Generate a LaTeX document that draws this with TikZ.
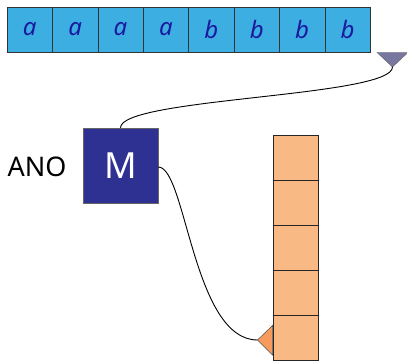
\documentclass[tikz,border=0pt]{standalone}
\usepackage{fontspec}
\setmainfont{Noto Sans}
\usetikzlibrary{calc}
\definecolor{tapeblue}{HTML}{3DAEE2}
\definecolor{letterblue}{HTML}{1A1AA0}
\definecolor{mblue}{HTML}{2E3192}
\definecolor{headgray}{HTML}{7777A0}
\definecolor{cellorange}{HTML}{F9B985}
\definecolor{headorange}{HTML}{F79A5E}
\begin{document}
\begin{tikzpicture}[x=1pt,y=-1pt,
  tcell/.style={draw=black!80,line width=0.6pt,fill=tapeblue,minimum width=45.4pt,minimum height=45pt,inner sep=0pt,outer sep=0pt,font=\fontsize{24}{24}\selectfont\itshape,text=letterblue},
  ocell/.style={draw=black!85,line width=0.6pt,fill=cellorange,minimum width=45pt,minimum height=45pt,inner sep=0pt,outer sep=0pt},
  wire/.style={line width=0.9pt,black}]
\useasboundingbox (0,0) rectangle (407,361);
% top tape
\foreach \i/\l in {0/a,1/a,2/a,3/a,4/b,5/b,6/b,7/b}{
  \node[tcell] (t\i) at ({7+22.7+45.4*\i},29.5) {\l};
}
% head triangle
\coordinate (h1) at (377,52.5);
\coordinate (h2) at (408,52.5);
\coordinate (hA) at (392.5,67);
\filldraw[fill=headgray,draw=black!60,line width=0.4pt] (h1) -- (h2) -- (hA) -- cycle;
% M box
\node[draw=black!60,line width=0.5pt,fill=mblue,minimum size=75pt,inner sep=0pt,text=white,font=\fontsize{36}{36}\selectfont] (M) at (120.5,165.5) {M};
\node[font=\fontsize{27}{27}\selectfont,anchor=east] (ano) at (70,167) {ANO};
% orange column
\foreach \j in {0,...,4}{
  \node[ocell] (o\j) at (295.5,{135+22.5+45*\j}) {};
}
% orange head
\coordinate (g1) at (272.5,325.5);
\coordinate (g2) at (272.5,355);
\coordinate (gA) at (257.5,340);
\filldraw[fill=headorange,draw=black!70,line width=0.5pt] (g1) -- (gA) -- (g2) -- cycle;
% wires
\draw[wire] (M.north) .. controls ($(M.north)+(0,-30)$) and ($(hA)+(0,30)$) .. (hA);
\draw[wire] (M.east) ++(0,1.5) coordinate (me) .. controls (186,167) and (193,340) .. (gA);
\end{tikzpicture}
\end{document}
